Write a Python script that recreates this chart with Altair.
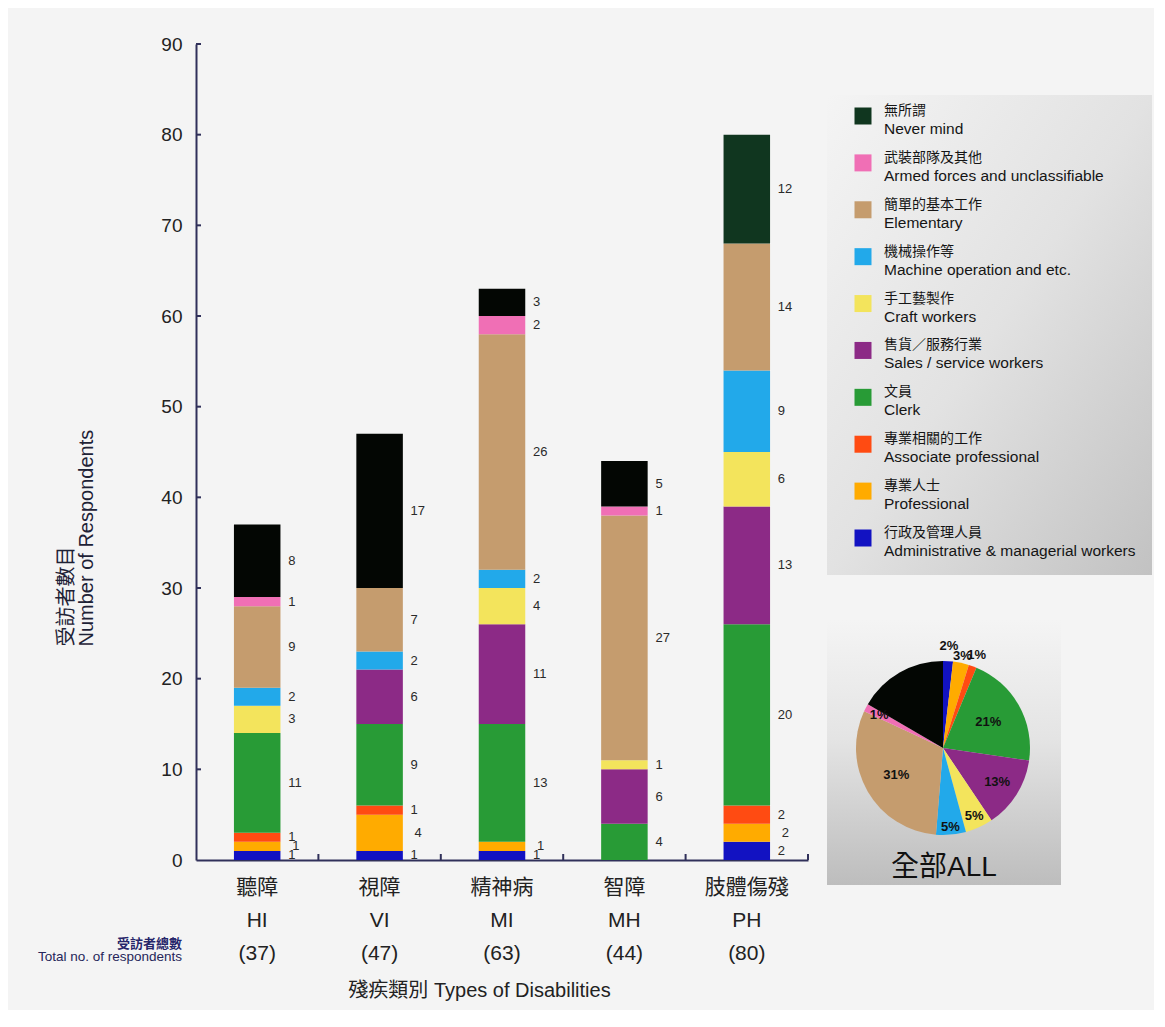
import altair as alt
import pandas as pd

# ---------------- data ----------------
disab_zh = ["聽障", "視障", "精神病", "智障", "肢體傷殘"]
disab_en = ["HI", "VI", "MI", "MH", "PH"]

# occupations, bottom of stack -> top of stack
occ_en = ["Administrative & managerial workers", "Professional", "Associate professional",
          "Clerk", "Sales / service workers", "Craft workers", "Machine operation and etc.",
          "Elementary", "Armed forces and unclassifiable", "Never mind"]
occ_zh = ["行政及管理人員", "專業人士", "專業相關的工作", "文員", "售貨／服務行業",
          "手工藝製作", "機械操作等", "簡單的基本工作", "武裝部隊及其他", "無所謂"]

hi_counts = [1, 1, 1, 11, 0, 3, 2, 9, 1, 8]
vi_counts = [1, 4, 1, 9, 6, 0, 2, 7, 0, 17]
mi_counts = [1, 1, 0, 13, 11, 4, 2, 26, 2, 3]
mh_counts = [0, 0, 0, 4, 6, 1, 0, 27, 1, 5]
ph_counts = [2, 2, 2, 20, 13, 6, 9, 14, 0, 12]

pie_labels = ["2%", "3%", "1%", "21%", "13%", "5%", "5%", "31%", "1%", ""]
y_ticks = [0, 10, 20, 30, 40, 50, 60, 70, 80, 90]

y_title = ["受訪者數目", "Number of Respondents"]
x_title = "殘疾類別 Types of Disabilities"
total_zh = "受訪者總數"
total_en = "Total no. of respondents"
pie_title = "全部ALL"

# ---------------- styles ----------------
FONT = "Liberation Sans, Arial, Noto Sans CJK TC"
occ_colors = ["#1212c2", "#ffab00", "#ff4b12", "#289b36", "#8c2a86", "#f3e45c",
              "#22a9ea", "#c59c6e", "#f06fb5", "#10361f"]
BLACK_KEY = "Never mind (black)"
color_scale = alt.Scale(domain=occ_en + [BLACK_KEY], range=occ_colors + ["#030603"])
black_top = {"HI", "VI", "MI", "MH"}

# ---------------- bar data ----------------
all_counts = [hi_counts, vi_counts, mi_counts, mh_counts, ph_counts]
cat_order = []
rows = []
for zh, en, counts in zip(disab_zh, disab_en, all_counts):
    cat = f"{zh}|{en}|({sum(counts)})"
    cat_order.append(cat)
    cum = 0
    for j, n in enumerate(counts):
        if n > 0:
            key = occ_en[j]
            if j == 9 and en in black_top:
                key = BLACK_KEY
            rows.append({"cat": cat, "key": key, "n": n, "y0": cum, "y1": cum + n,
                         "mid": cum + n / 2, "j": j})
        cum += n
bar_df = pd.DataFrame(rows)

W, H = 612, 816
PAD_IN, PAD_OUT = 0.62, 0.31
STEP = W / (len(cat_order) - PAD_IN + 2 * PAD_OUT)
AXIS_COL = "#30305a"

def xscale():
    return alt.Scale(domain=cat_order, paddingInner=PAD_IN, paddingOuter=PAD_OUT)

x_enc = alt.X("cat:N", scale=xscale(),
              axis=alt.Axis(title=x_title, labelExpr="split(datum.label, '|')", labelAngle=0,
                            labelFontSize=21, labelLineHeight=33, labelPadding=16,
                            labelColor="#222222", ticks=False, domainColor=AXIS_COL,
                            domainWidth=2, titleFontSize=20, titleFontWeight="normal",
                            titleColor="#222222", titleX=283, titleY=130,
                            titleAlign="center", titleBaseline="middle"))
y_scale = alt.Scale(domain=[0, 90], nice=False, zero=True)

bars = alt.Chart(bar_df).mark_bar().encode(
    x=x_enc,
    y=alt.Y("y0:Q", scale=y_scale,
            axis=alt.Axis(title=y_title, values=y_ticks, labelFontSize=19, labelPadding=14,
                          labelColor="#222222", ticks=False, grid=False,
                          domainColor=AXIS_COL, domainWidth=2,
                          titleFontSize=20, titleFontWeight="normal", titleColor="#1e2236",
                          titleAngle=270, titleAlign="left", titleBaseline="alphabetic",
                          titleX=-124, titleY=602, titleLineHeight=20)),
    y2="y1:Q",
    color=alt.Color("key:N", scale=color_scale, legend=None),
)

labels = alt.Chart(bar_df).transform_filter("datum.j != 1").mark_text(
    align="left", baseline="middle", dx=31, fontSize=13, color="#2a2a2a").encode(
    x=alt.X("cat:N", scale=xscale()),
    y=alt.Y("mid:Q", scale=y_scale),
    text="n:Q",
)
labels_b = alt.Chart(bar_df).transform_filter("datum.j == 1").mark_text(
    align="left", baseline="middle", dx=35, fontSize=13, color="#2a2a2a").encode(
    x=alt.X("cat:N", scale=xscale()),
    y=alt.Y("mid:Q", scale=y_scale),
    text="n:Q",
)

ytick_df = pd.DataFrame({"v": [v for v in y_ticks if v > 0]})
yticks = alt.Chart(ytick_df).mark_rule(color=AXIS_COL, strokeWidth=2).encode(
    y=alt.Y("v:Q", scale=y_scale),
    x=alt.value(0), x2=alt.value(5),
)

xtick_df = pd.DataFrame({"cat": cat_order})
xticks = alt.Chart(xtick_df).mark_rule(color=AXIS_COL, strokeWidth=2,
                                       xOffset=PAD_IN * STEP / 2).encode(
    x=alt.X("cat:N", scale=xscale(), bandPosition=1),
    y=alt.value(H), y2=alt.value(H - 6),
)

one = pd.DataFrame({"a": [0]})
tot_zh = alt.Chart(one).mark_text(align="right", baseline="middle", fontSize=13,
                                  fontWeight="bold", color="#26266a").encode(
    x=alt.value(-14), y=alt.value(900), text=alt.value(total_zh))
tot_en = alt.Chart(one).mark_text(align="right", baseline="middle", fontSize=13.5,
                                  color="#26265a").encode(
    x=alt.value(-14), y=alt.value(913), text=alt.value(total_en))

bar_chart = alt.layer(bars, labels, labels_b, yticks, xticks, tot_zh, tot_en).properties(
    width=W, height=H)

# ---------------- legend panel ----------------
leg_order = list(range(9, -1, -1))
leg_df = pd.DataFrame({"idx": list(range(10)),
                       "key": [occ_en[j] for j in leg_order],
                       "zh": [occ_zh[j] for j in leg_order],
                       "en": [occ_en[j] for j in leg_order]})
LW, LH = 325, 531
leg_grad = alt.LinearGradient(gradient="linear", x1=0, y1=0, x2=1, y2=1,
                              stops=[alt.GradientStop(offset=0, color="#f4f4f4"),
                                     alt.GradientStop(offset=0.5, color="#e2e2e2"),
                                     alt.GradientStop(offset=1, color="#c2c2c2")])
leg_bg = alt.Chart(one).mark_rect(fill=leg_grad).encode(
    x=alt.value(0), x2=alt.value(325), y=alt.value(51), y2=alt.value(531))
leg_y = alt.Y("idx:O", scale=alt.Scale(type="point", domain=list(range(10)), range=[72, 494], padding=0),
              axis=None)
leg_sq = alt.Chart(leg_df).mark_square(size=289, opacity=1).encode(
    x=alt.value(36), y=leg_y, color=alt.Color("key:N", scale=color_scale, legend=None))
leg_zh = alt.Chart(leg_df).mark_text(align="left", baseline="middle", dy=-5, fontSize=14,
                                     color="#151515").encode(x=alt.value(57), y=leg_y, text="zh:N")
leg_en = alt.Chart(leg_df).mark_text(align="left", baseline="middle", dy=13, fontSize=15.5,
                                     color="#151515").encode(x=alt.value(57), y=leg_y, text="en:N")
legend_chart = alt.layer(leg_bg, leg_sq, leg_zh, leg_en).properties(width=LW, height=LH)

# ---------------- pie panel ----------------
lbl_radius = {"Administrative & managerial workers": 102, "Professional": 94,
              "Associate professional": 99, "Clerk": 52, "Sales / service workers": 64,
              "Craft workers": 75, "Machine operation and etc.": 79, "Elementary": 54,
              "Armed forces and unclassifiable": 72, "Never mind": 0}
pie_rows = []
for j in range(10):
    pie_rows.append({"idx": j,
                     "key": BLACK_KEY if j == 9 else occ_en[j],
                     "n": sum(c[j] for c in all_counts),
                     "lab": pie_labels[j],
                     "lr": lbl_radius[occ_en[j]]})
pie_df = pd.DataFrame(pie_rows)
PW, PH = 234, 285
CX, CY = 116, 148
pie_grad = alt.LinearGradient(gradient="linear", x1=0, y1=0, x2=0, y2=1,
                              stops=[alt.GradientStop(offset=0, color="#f4f4f4"),
                                     alt.GradientStop(offset=0.45, color="#e4e4e4"),
                                     alt.GradientStop(offset=1, color="#bdbdbd")])
pie_bg = alt.Chart(one).mark_rect(fill=pie_grad).encode(
    x=alt.value(0), x2=alt.value(PW), y=alt.value(20), y2=alt.value(PH))
arcs = alt.Chart(pie_df).mark_arc(outerRadius=87).encode(
    theta=alt.Theta("n:Q", stack=True), order=alt.Order("idx:Q"),
    color=alt.Color("key:N", scale=color_scale, legend=None),
    x=alt.value(CX), y=alt.value(CY))
arc_txt = alt.Chart(pie_df).transform_window(
    cum="sum(n)", sort=[alt.SortField("idx")], frame=[None, 0]
).transform_joinaggregate(tot="sum(n)").transform_calculate(
    tm="(datum.cum - datum.n / 2) / datum.tot * 2 * PI"
).mark_text(fontSize=13, fontWeight="bold", color="#111111").encode(
    theta=alt.Theta("tm:Q", scale=None),
    radius=alt.Radius("lr:Q", scale=None),
    text="lab:N", x=alt.value(CX), y=alt.value(CY))
all_txt = alt.Chart(one).mark_text(fontSize=28, color="#111111", baseline="middle").encode(
    x=alt.value(CX + 1), y=alt.value(268), text=alt.value(pie_title))
pie_chart = alt.layer(pie_bg, arcs, arc_txt, all_txt).properties(width=PW, height=PH)

right = alt.vconcat(legend_chart, pie_chart, spacing=25, bounds="flush")
chart = alt.hconcat(bar_chart, right, spacing=19, bounds="flush").properties(
    padding={"left": 29, "top": 27, "right": 2, "bottom": 10},
    background="#f4f4f4",
).configure(font=FONT).configure_view(strokeWidth=0)

chart.save("out.html", embed_options={"renderer": "svg", "actions": False})
